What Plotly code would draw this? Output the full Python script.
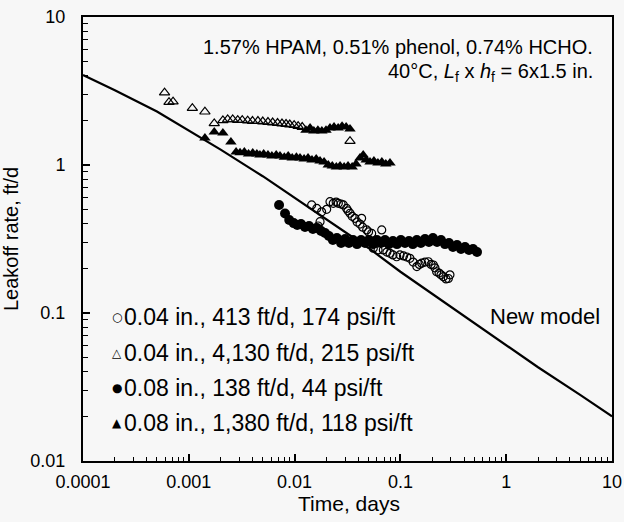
import plotly.graph_objects as go

# ---------------- data ----------------
# New model curve
model_t = [0.0001, 0.0002, 0.0005, 0.001, 0.002, 0.005, 0.01, 0.02, 0.05, 0.1,
           0.2, 0.5, 1, 2, 5, 10]
model_q = [4.05, 3.2, 2.3, 1.72, 1.27, 0.84, 0.60, 0.43, 0.275, 0.19,
           0.135, 0.086, 0.061, 0.043, 0.028, 0.020]

# open circles: 0.04 in., 413 ft/d, 174 psi/ft
oc_t = [0.0145, 0.0162, 0.0167, 0.0174, 0.018, 0.0201, 0.0216, 0.0232, 0.0247, 0.0259,
        0.0275, 0.0289, 0.031, 0.032, 0.0334, 0.035, 0.0372, 0.039, 0.0415, 0.043,
        0.044, 0.048, 0.050, 0.0535, 0.0554, 0.0597, 0.0615, 0.0666, 0.069, 0.0745,
        0.0798, 0.085, 0.0922, 0.099, 0.107, 0.115, 0.123, 0.132, 0.143, 0.151,
        0.159, 0.171, 0.184, 0.195, 0.205, 0.212, 0.22, 0.232, 0.242, 0.255,
        0.27, 0.284, 0.294]
oc_q = [0.537, 0.509, 0.387, 0.414, 0.483, 0.502, 0.565, 0.551, 0.562, 0.551,
        0.545, 0.537, 0.509, 0.49, 0.472, 0.45, 0.436, 0.412, 0.399, 0.436,
        0.38, 0.364, 0.353, 0.345, 0.274, 0.296, 0.267, 0.364, 0.267, 0.258,
        0.253, 0.247, 0.24, 0.247, 0.243, 0.239, 0.234, 0.221, 0.206, 0.213,
        0.217, 0.221, 0.222, 0.213, 0.211, 0.202, 0.19, 0.186, 0.181, 0.176,
        0.17, 0.171, 0.181]

# open triangles: 0.04 in., 4,130 ft/d, 215 psi/ft
ot_t = [0.00059, 0.00065, 0.00071, 0.00108, 0.00142, 0.00174, 0.0021, 0.00233, 0.0026, 0.0029,
        0.0032, 0.0036, 0.0040, 0.0045, 0.0050, 0.0056, 0.0062, 0.0069, 0.0076, 0.0083,
        0.0090, 0.0099, 0.0108, 0.0118, 0.0334]
ot_q = [3.08, 2.66, 2.68, 2.42, 2.29, 1.91, 2.0, 2.03, 2.03, 2.01,
        2.01, 1.995, 1.98, 1.98, 1.965, 1.95, 1.935, 1.92, 1.905, 1.89,
        1.875, 1.86, 1.83, 1.805, 1.45]

# filled circles: 0.08 in., 138 ft/d, 44 psi/ft
fc_t = [0.00713, 0.00812, 0.0089, 0.0098, 0.0106, 0.0115, 0.01254, 0.0137, 0.0149, 0.0163,
        0.0178, 0.0194, 0.0211, 0.023, 0.0251, 0.0275, 0.0300, 0.0326, 0.0357, 0.0389,
        0.0425, 0.0463, 0.0504, 0.055, 0.060, 0.0655, 0.0715, 0.078, 0.085, 0.0928,
        0.101, 0.1105, 0.1205, 0.131, 0.143, 0.156, 0.171, 0.186, 0.203, 0.222,
        0.242, 0.264, 0.288, 0.314, 0.343, 0.374, 0.408, 0.445, 0.486, 0.530]
fc_q = [0.536, 0.47, 0.425, 0.405, 0.393, 0.399, 0.381, 0.387, 0.37, 0.375,
        0.358, 0.347, 0.331, 0.311, 0.321, 0.297, 0.316, 0.297, 0.311, 0.292,
        0.311, 0.297, 0.311, 0.292, 0.311, 0.297, 0.311, 0.292, 0.306, 0.292,
        0.311, 0.297, 0.306, 0.292, 0.311, 0.297, 0.316, 0.302, 0.321, 0.302,
        0.311, 0.292, 0.297, 0.279, 0.288, 0.271, 0.279, 0.267, 0.271, 0.258]

# filled triangles: 0.08 in., 1,380 ft/d, 118 psi/ft
ft_t = [0.00142, 0.00174, 0.0021, 0.0025, 0.0028, 0.00305, 0.00335, 0.00367, 0.00402, 0.0044,
        0.0047, 0.0051, 0.0056, 0.0061, 0.0067, 0.00728, 0.0080, 0.0087, 0.0095, 0.0104,
        0.01125, 0.0123, 0.0134, 0.0146, 0.016, 0.0174, 0.019, 0.0208, 0.0227, 0.0248,
        0.0269, 0.0294, 0.032, 0.035, 0.0381, 0.0415, 0.0445, 0.0475, 0.0516, 0.0562,
        0.0613, 0.0668, 0.0728, 0.0797,
        0.0128, 0.014, 0.0152, 0.0166, 0.0181, 0.0198, 0.0216, 0.0236, 0.0258, 0.0281,
        0.0307, 0.0334]
ft_q = [1.52, 1.67, 1.645, 1.43, 1.224, 1.21, 1.224, 1.187, 1.205, 1.187,
        1.17, 1.187, 1.17, 1.15, 1.17, 1.15, 1.13, 1.15, 1.115, 1.13,
        1.115, 1.098, 1.115, 1.081, 1.098, 1.064, 1.048, 1.0, 0.984, 0.969,
        0.984, 0.969, 0.984, 0.969, 1.016, 1.115, 1.17, 1.081, 1.048, 1.064,
        1.032, 1.048, 1.016, 1.032,
        1.72, 1.78, 1.70, 1.72, 1.70, 1.72, 1.78, 1.805, 1.78, 1.83,
        1.805, 1.75]

x_tickvals = [0.0001, 0.001, 0.01, 0.1, 1, 10]
x_ticktext = ["0.0001", "0.001", "0.01", "0.1", "1", "10"]
y_tickvals = [0.01, 0.1, 1, 10]
y_ticktext = ["0.01", "0.1", "1", "10"]

legend_symbols = ["\u25CB", "\u25B3", "\u25CF", "\u25B2"]
legend_texts = ["0.04 in., 413 ft/d, 174 psi/ft",
                "0.04 in., 4,130 ft/d, 215 psi/ft",
                "0.08 in., 138 ft/d, 44 psi/ft",
                "0.08 in., 1,380 ft/d, 118 psi/ft"]

# ---------------- figure ----------------
BG = "#f7f7f7"
FONT = "Liberation Sans, Arial, sans-serif"

fig = go.Figure()
fig.add_trace(go.Scatter(x=model_t, y=model_q, mode="lines",
                         line=dict(color="black", width=2.2), showlegend=False,
                         name="New model"))
fig.add_trace(go.Scatter(x=oc_t, y=oc_q, mode="markers", name=legend_texts[0],
                         marker=dict(symbol="circle-open", size=8, color="black",
                                     line=dict(width=1.2)), showlegend=False))
fig.add_trace(go.Scatter(x=fc_t, y=fc_q, mode="markers", name=legend_texts[2],
                         marker=dict(symbol="circle", size=10, color="black"),
                         showlegend=False))
fig.add_trace(go.Scatter(x=ot_t, y=ot_q, mode="markers", name=legend_texts[1],
                         marker=dict(symbol="triangle-up-open", size=9, color="black",
                                     line=dict(width=1.2)), showlegend=False))
fig.add_trace(go.Scatter(x=ft_t, y=ft_q, mode="markers", name=legend_texts[3],
                         marker=dict(symbol="triangle-up", size=10, color="black"),
                         showlegend=False))

minor_x = [m * 10 ** e for e in range(-4, 1) for m in range(2, 10)]
minor_y = [m * 10 ** e for e in range(-2, 1) for m in range(2, 10)]

axis_common = dict(type="log", showgrid=False, zeroline=False, showline=True,
                   linecolor="black", linewidth=2, mirror=True, automargin=False,
                   ticks="inside", ticklen=7, tickwidth=1.5, tickcolor="black",
                   tickfont=dict(size=18, color="black", family=FONT))

fig.update_xaxes(**axis_common, range=[-4, 1], tickvals=x_tickvals, ticktext=x_ticktext,
                 minor=dict(tickvals=minor_x, ticks="inside", ticklen=4, tickcolor="black",
                            tickwidth=1, showgrid=False),
                 ticklabelstandoff=3)
fig.update_yaxes(**axis_common, range=[-2, 1], tickvals=y_tickvals, ticktext=y_ticktext,
                 minor=dict(tickvals=minor_y, ticks="inside", ticklen=5, tickcolor="black",
                            tickwidth=1, showgrid=False),
                 ticklabelstandoff=12,
                 title=dict(text="Leakoff rate, ft/d", font=dict(size=20, color="black", family=FONT),
                            standoff=6))

annotations = [
    dict(text="1.57% HPAM, 0.51% phenol, 0.74% HCHO.", x=0.968, y=0.9324,
         xanchor="right", yanchor="middle", font=dict(size=20)),
    dict(text="40°C, <i>L</i><sub>f</sub> x <i>h</i><sub>f</sub> = 6x1.5 in.", x=0.968, y=0.8739,
         xanchor="right", yanchor="middle", font=dict(size=20)),
    dict(text="New model", x=0.7656, y=0.325, xanchor="left", yanchor="middle",
         font=dict(size=22)),
    dict(text="Time, days", x=0.503, y=-0.095, xanchor="center", yanchor="middle",
         font=dict(size=21)),
]
leg_y = [0.325, 0.2426, 0.1637, 0.0849]
for sym, txt, yy in zip(legend_symbols, legend_texts, leg_y):
    annotations.append(dict(text=sym, x=0.064, y=yy, xanchor="center", yanchor="middle",
                            font=dict(size=12, family="DejaVu Sans")))
    annotations.append(dict(text=txt, x=0.0745, y=yy, xanchor="left", yanchor="middle",
                            font=dict(size=23)))
for a in annotations:
    a.update(xref="paper", yref="paper", showarrow=False)
    a["font"].setdefault("family", FONT)
    a["font"]["color"] = "black"

fig.update_layout(width=624, height=522, margin=dict(l=83, r=12, t=17, b=61),
                  paper_bgcolor=BG, plot_bgcolor=BG, annotations=annotations,
                  font=dict(family=FONT, color="black"), showlegend=False)

fig.write_html("out.html", config={"displayModeBar": False},
               post_script="document.body.style.margin='0';")
